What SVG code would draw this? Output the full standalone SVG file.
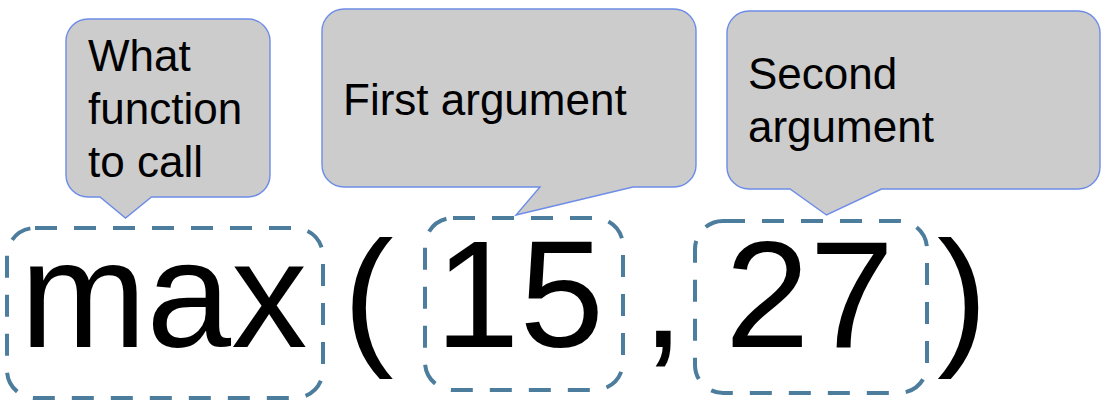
<svg xmlns="http://www.w3.org/2000/svg" width="1110" height="420" viewBox="0 0 1110 420">
<style>
.callout{fill:#cccccc;stroke:#6d8ce8;stroke-width:1.4;}
.ctext{font-family:"Liberation Sans",Arial,sans-serif;font-size:44px;fill:#000;}
.big{font-family:"Liberation Sans",Arial,sans-serif;font-size:152px;fill:#000;}
.dash{fill:none;stroke:#4d7d9d;stroke-width:4;stroke-dasharray:22 17;}
</style>
<rect width="1110" height="420" fill="#ffffff"/>
<g id="callout-function">
<path class="callout" d="M 88 19 H 248 A 22 22 0 0 1 270 41 V 175 A 22 22 0 0 1 248 197 H 151.5 L 125.5 218 L 100 197 H 88 A 22 22 0 0 1 66 175 V 41 A 22 22 0 0 1 88 19 Z"/>
<text class="ctext" x="88" y="71">What</text>
<text class="ctext" x="88" y="124">function</text>
<text class="ctext" x="88" y="177">to call</text>
</g>
<g id="callout-first">
<path class="callout" d="M 344 9 H 674 A 22 22 0 0 1 696 31 V 165 A 22 22 0 0 1 674 187 H 633 L 516 215 L 540 187 H 344 A 22 22 0 0 1 322 165 V 31 A 22 22 0 0 1 344 9 Z"/>
<text class="ctext" x="343" y="115">First argument</text>
</g>
<g id="callout-second">
<path class="callout" d="M 749 11 H 1078 A 22 22 0 0 1 1100 33 V 167 A 22 22 0 0 1 1078 189 H 881.5 L 826.5 215 L 790 189 H 749 A 22 22 0 0 1 727 167 V 33 A 22 22 0 0 1 749 11 Z"/>
<text class="ctext" x="748" y="88.5">Second</text>
<text class="ctext" x="748" y="142">argument</text>
</g>
<g id="box-max">
<rect class="dash" x="7" y="228" width="316" height="170" rx="28" ry="28"/>
<text class="big" x="20" y="347">max</text>
</g>
<text class="big" x="343" y="347">(</text>
<g id="box-15">
<rect class="dash" x="425" y="218" width="198" height="172" rx="28" ry="28"/>
<text class="big" x="435" y="347">15</text>
</g>
<text class="big" x="642" y="347">,</text>
<g id="box-27">
<rect class="dash" x="695" y="221" width="232" height="172" rx="28" ry="28"/>
<text class="big" x="725" y="347">27</text>
</g>
<text class="big" x="937" y="347">)</text>
</svg>
